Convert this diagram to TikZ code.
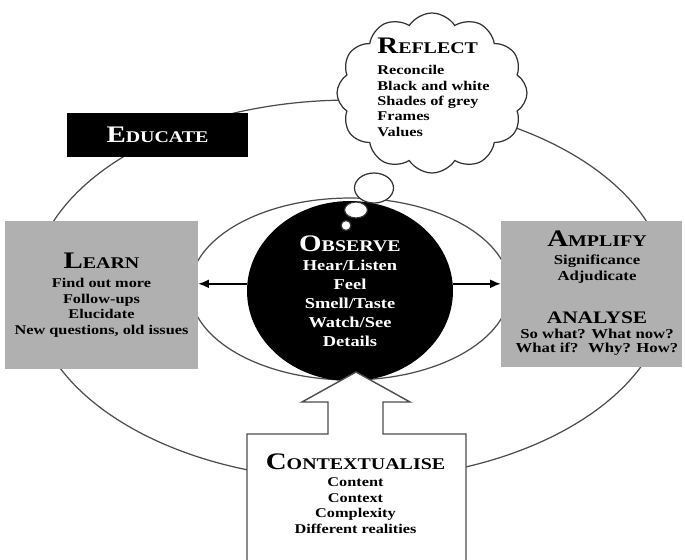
\documentclass[tikz,border=0pt]{standalone}
\usepackage{fontspec}
\setmainfont{Liberation Serif}[FakeStretch=1.22]
\usetikzlibrary{shapes.geometric,shapes.symbols,arrows.meta}

\newcommand{\hd}[2]{{\fontsize{13.5}{14}\selectfont #1}{\fontsize{9.3}{10}\selectfont #2}}

\tikzset{
  ring/.style={draw=black!70, line width=0.7pt},
  panel/.style={fill=black!31, inner sep=0pt},
  txt/.style={align=center, inner sep=0pt, font=\bfseries\fontsize{7.6}{8.9}\selectfont},
  bubble/.style={ellipse, draw=black!80, fill=white, line width=0.7pt, inner sep=0pt},
  pointer/.style={-{Latex[length=6pt,width=5pt]}, line width=0.8pt},
}

\begin{document}
\begin{tikzpicture}[x=0.02cm, y=-0.02cm]
  \useasboundingbox (0,0) rectangle (685,559);

  % outer cycle and inner lens
  \node[ring, ellipse, minimum width=12.72cm, minimum height=7.6cm] (cycle) at (350,290) {};
  \node[ring, ellipse, minimum width=6.4cm, minimum height=3.64cm] (lens) at (350,289) {};

  % observe
  \node[ellipse, fill=black, text=white, minimum width=4.12cm, minimum height=3.6cm, txt, font=\bfseries\fontsize{8.6}{10.8}\selectfont] (observe) at (350,291)
    {\hd{O}{BSERVE}\\ Hear/Listen\\ Feel\\ Smell/Taste\\ Watch/See\\ Details};

  % side panels
  \node[panel, txt, minimum width=3.86cm, minimum height=2.96cm] (learn) at (101.5,295)
    {\hd{L}{EARN}\\[1.9pt] Find out more\\ Follow-ups\\ Elucidate\\ New questions, old issues};
  \node[panel, minimum width=3.62cm, minimum height=2.92cm] (amplify) at (591.5,294) {};
  \node[txt, font=\bfseries\fontsize{7.8}{9}\selectfont] (analyse) at (597,293)
    {\hd{A}{MPLIFY}\\[1.2pt] Significance\\ Adjudicate\\[15.5pt] {\fontsize{10}{10}\selectfont ANALYSE}\\[-0.5pt] So what? What now?\\[-1pt] What if?~ Why? How?};

  \draw[pointer] (observe.176) -- (observe.176 -| learn.east);
  \draw[pointer] (observe.4) -- (observe.4 -| amplify.west);

  % educate
  \node[fill=black, text=white, txt, minimum width=3.62cm, minimum height=0.88cm] (educate) at (157.5,135) {\hd{E}{DUCATE}};

  % reflect cloud and thought bubbles
  \node[cloud, cloud puffs=12, cloud puff arc=115, cloud ignores aspect, draw=black!80, fill=white, line width=0.7pt, minimum width=3.8cm, minimum height=3.2cm] (reflect) at (432,93) {};
  \node[txt, align=left, anchor=north west, font=\bfseries\fontsize{7.6}{8.7}\selectfont] (reflecttext) at (377,38)
    {\hd{R}{EFLECT}\\[3.3pt] Reconcile\\ Black and white\\ Shades of grey\\ Frames\\ Values};
  \node[bubble, minimum width=0.78cm, minimum height=0.6cm] (bigbubble) at (374,188) {};
  \node[bubble, minimum width=0.46cm, minimum height=0.32cm] (midbubble) at (356,210) {};
  \node[bubble, minimum width=0.2cm, minimum height=0.2cm] (smallbubble) at (346,225.5) {};

  % contextualise block arrow
  \draw[ring, fill=white, line width=0.8pt] (247,565) -- (247,434) -- (328,434) -- (328,402) -- (302,402) -- (356,372) -- (410,402) -- (383,402) -- (383,434) -- (466,434) -- (466,565);
  \node[txt, anchor=north] (context) at (355.5,453)
    {\hd{C}{ONTEXTUALISE}\\[1.1pt] Content\\ Context\\ Complexity\\ Different realities};
\end{tikzpicture}
\end{document}
